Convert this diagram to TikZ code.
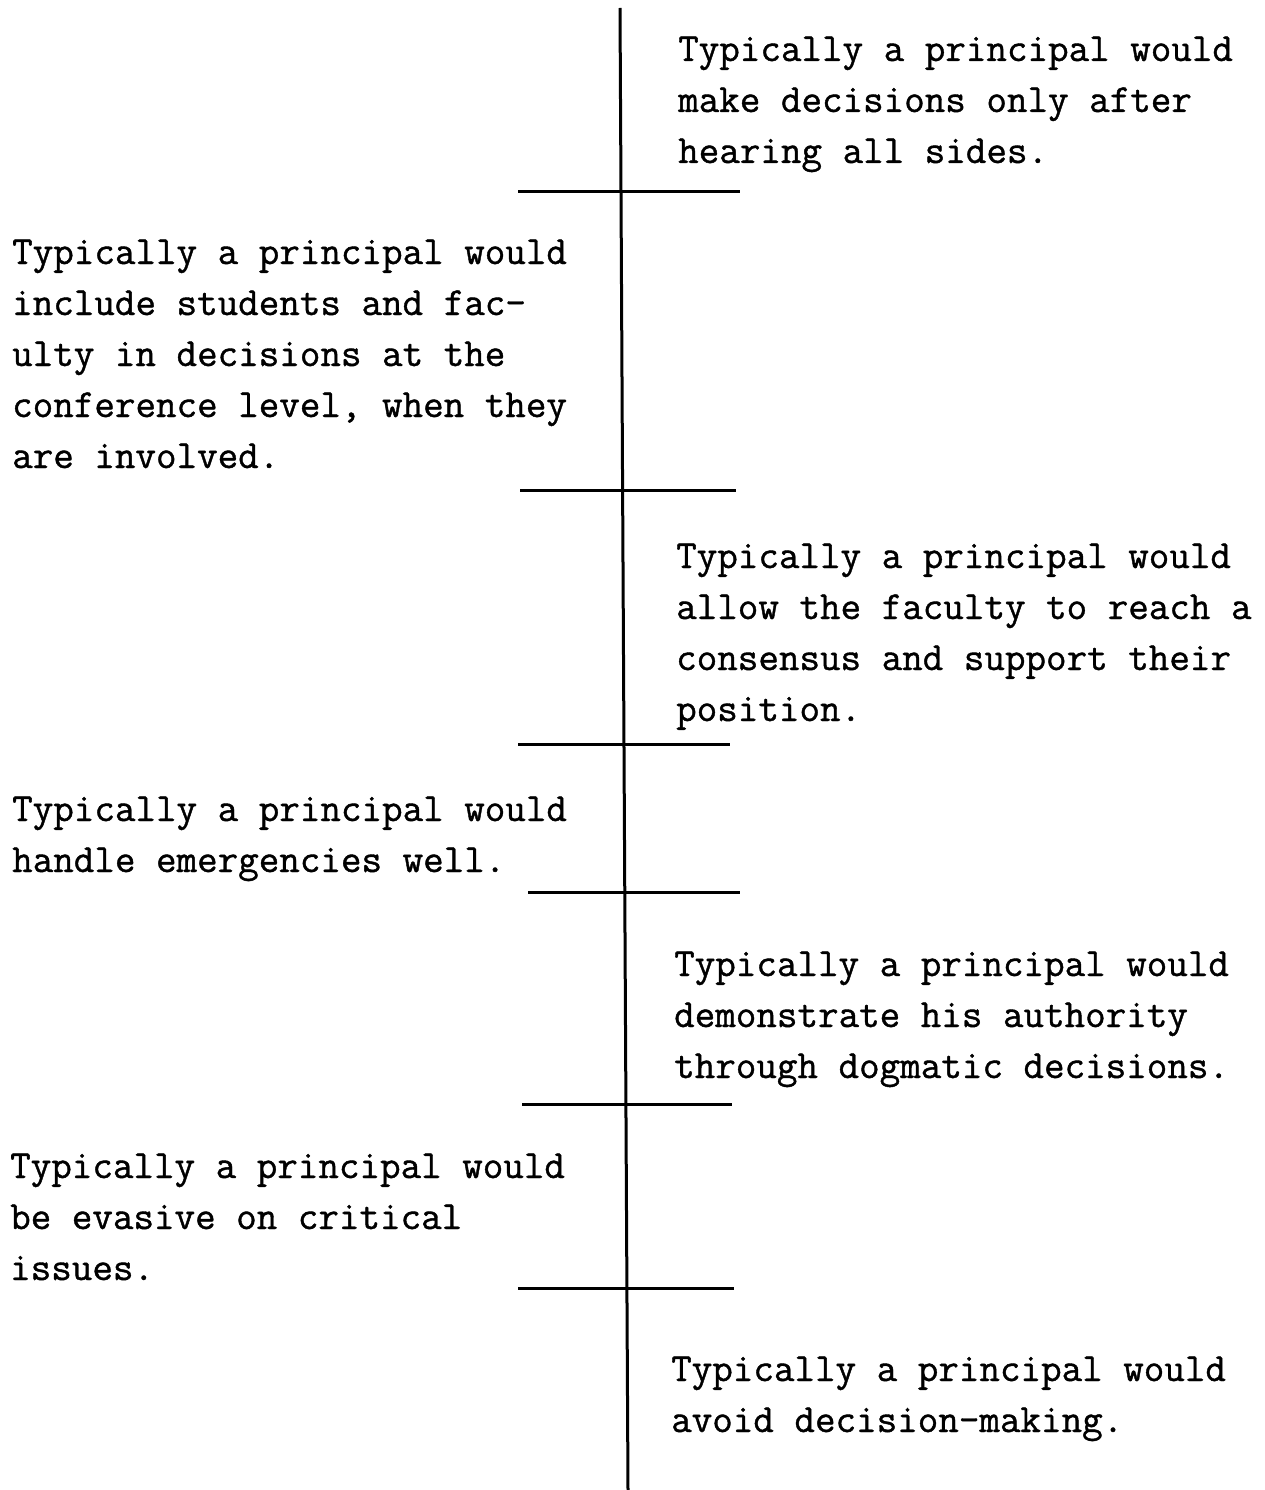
\documentclass[tikz,border=0pt]{standalone}
\usepackage{fontspec}
\setmonofont{Latin Modern Mono}[FakeBold=1]
\begin{document}
\begin{tikzpicture}[x=1pt,y=-1pt,
  item/.style={anchor=base west,inner sep=0pt,align=left,
    font=\ttfamily\fontsize{39.9}{51}\selectfont},
  rule/.style={line width=3pt,line cap=butt}]
\useasboundingbox (0,0) rectangle (1265,1490);
% statements on either side of the scale (placed by the baseline of their last line)
\node[item] (r1) at (678,163) {Typically a principal would\\make decisions only after\\hearing all sides.};
\node[item] (l1) at (12,468) {Typically a principal would\\include students and fac-\\ulty in decisions at the\\conference level, when they\\are involved.};
\node[item] (r2) at (676,721) {Typically a principal would\\allow the faculty to reach a\\consensus and support their\\position.};
\node[item] (l2) at (12,872) {Typically a principal would\\handle emergencies well.};
\node[item] (r3) at (674,1078) {Typically a principal would\\demonstrate his authority\\through dogmatic decisions.};
\node[item] (l3) at (10,1280) {Typically a principal would\\be evasive on critical\\issues.};
\node[item] (r4) at (671,1432) {Typically a principal would\\avoid decision-making.};
% vertical scale line
\coordinate (top) at (620,8);
\coordinate (bot) at (628,1490);
\draw[rule] (top) -- (bot);
% tick marks between statements
\foreach \y/\a/\b [count=\i] in {192/518/740,490/520/736,744/518/730,892/528/740,1104/522/732,1288/518/734}{
  \coordinate (t\i a) at (\a,\y);
  \coordinate (t\i b) at (\b,\y);
  \draw[rule] (t\i a) -- (t\i b);
}
\end{tikzpicture}
\end{document}
